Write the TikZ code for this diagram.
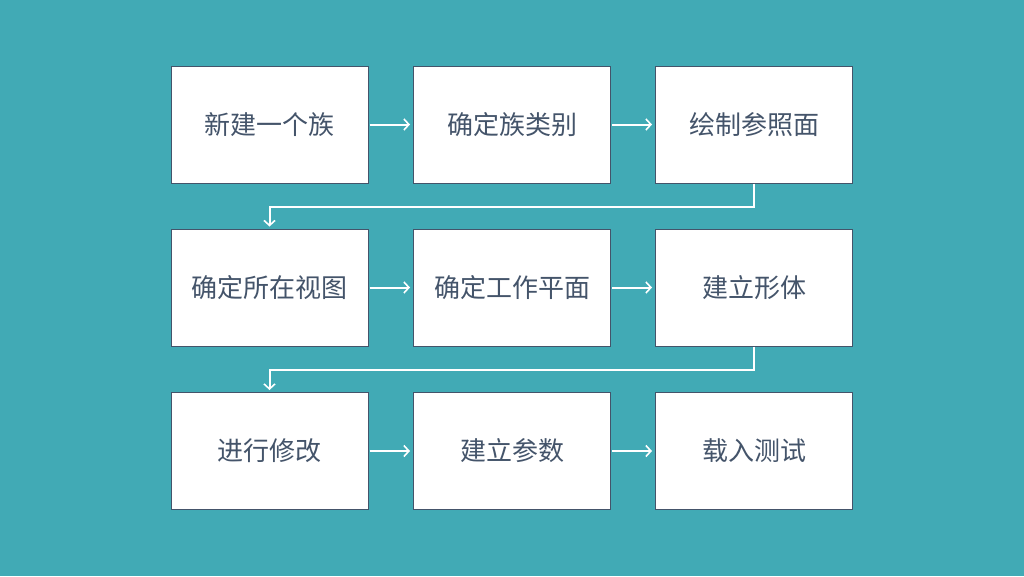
\documentclass[tikz,border=0pt]{standalone}
\usepackage{fontspec}
\usepackage{xcolor}
\setmainfont{Noto Sans CJK SC}
\definecolor{teal0}{RGB}{65,170,181}
\definecolor{ink}{RGB}{68,84,106}
\usetikzlibrary{arrows.meta}

\begin{document}
\begin{tikzpicture}[x=1pt,y=-1pt,font=\fontsize{26}{30}\selectfont,
  stepbox/.style={draw=ink,line width=1pt,fill=white,text=ink,
    minimum width=197pt,minimum height=117pt,inner sep=0pt},
  flow/.style={white,line width=2pt,-{Straight Barb[length=5pt,width=11pt,line width=1.6pt]}}]
\fill[teal0] (0,0) rectangle (1024,576);
\useasboundingbox (0,0) rectangle (1024,576);
% three rows of steps
\foreach \n/\x/\y/\t in {a/269.5/124.5/新建一个族,b/512/124.5/确定族类别,c/754/124.5/绘制参照面,
    d/269.5/287.5/确定所在视图,e/512/287.5/确定工作平面,f/754/287.5/建立形体,
    g/269.5/451/进行修改,h/512/451/建立参数,i/754/451/载入测试}
  \node[stepbox] (\n) at (\x,\y) {\t};
\foreach \p/\q in {a/b,b/c,d/e,e/f,g/h,h/i}
  \draw[flow,shorten <=1pt,shorten >=3pt] (\p) -- (\q);
% turn to the next row
\draw[flow,shorten >=2pt] (c.south) |- ++(0,23) -| (d.north);
\draw[flow,shorten >=2pt] (f.south) |- ++(0,23) -| (g.north);
\end{tikzpicture}
\end{document}
